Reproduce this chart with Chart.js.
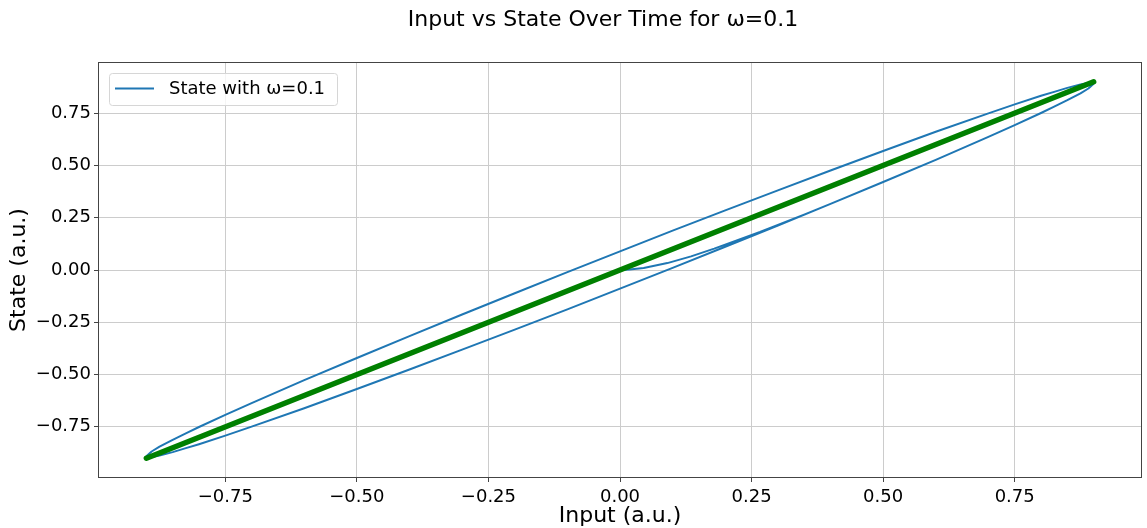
<!DOCTYPE html>
<html>
<head>
<meta charset="utf-8">
<script src="https://cdn.jsdelivr.net/npm/chart.js@4"></script>
<style>
  html, body { margin: 0; padding: 0; background: #fff; }
  canvas { display: block; }
</style>
</head>
<body>
<canvas id="loopChart" width="1147" height="528"></canvas>
<script>
// Start-up transient, from rest at the origin until it joins the lower branch
const transientInput = [0, 0.018, 0.045, 0.09, 0.135, 0.179, 0.266, 0.351];
const transientState = [0, 0.002, 0.010, 0.033, 0.065, 0.102, 0.182, 0.266];

// Steady hysteresis loop: rising (lower) and falling (upper) branches
const loopInput = [-0.9, -0.89, -0.875, -0.85, -0.825, -0.8, -0.75, -0.7, -0.6, -0.5, -0.4, -0.3, -0.2, -0.1,
  0, 0.1, 0.2, 0.3, 0.4, 0.5, 0.6, 0.7, 0.75, 0.8, 0.825, 0.85, 0.875, 0.89, 0.9];
const lowerState = [-0.891, -0.894, -0.887, -0.871, -0.852, -0.833, -0.792, -0.749, -0.661, -0.569, -0.476, -0.381, -0.285, -0.188,
  -0.089, 0.010, 0.111, 0.213, 0.316, 0.421, 0.527, 0.637, 0.693, 0.751, 0.781, 0.812, 0.845, 0.868, 0.891];
const upperState = [-0.891, -0.868, -0.845, -0.812, -0.781, -0.751, -0.693, -0.637, -0.527, -0.421, -0.316, -0.213, -0.111, -0.010,
  0.089, 0.188, 0.285, 0.381, 0.476, 0.569, 0.661, 0.749, 0.792, 0.833, 0.852, 0.871, 0.887, 0.894, 0.891];

// Identity reference line
const identityInput = [-0.9, 0.9];
const identityState = [-0.9, 0.9];

const tickValues = [-0.75, -0.5, -0.25, 0, 0.25, 0.5, 0.75];

const FONT = "'DejaVu Sans', sans-serif";

// transient -> rest of lower branch -> upper branch back down -> lower branch up again
const statePath = [];
transientInput.forEach((x, i) => statePath.push({ x: x, y: transientState[i] }));
loopInput.forEach((x, i) => { if (x > transientInput[transientInput.length - 1]) statePath.push({ x: x, y: lowerState[i] }); });
for (let i = loopInput.length - 2; i >= 0; i--) statePath.push({ x: loopInput[i], y: upperState[i] });
for (let i = 1; i < loopInput.length; i++) statePath.push({ x: loopInput[i], y: lowerState[i] });

const identityPath = identityInput.map((x, i) => ({ x: x, y: identityState[i] }));

const fmtTick = v => (v < 0 ? '\u2212' : '') + Math.abs(v).toFixed(2);

const axisCommon = {
  type: 'linear',
  min: -0.99,
  max: 0.99,
  afterBuildTicks: scale => { scale.ticks = tickValues.map(v => ({ value: v })); },
  grid: { color: '#cccccc', lineWidth: 1, tickColor: '#444', tickLength: 5, drawTicks: true },
  border: { display: false },
};

// frame, title and legend box, drawn the way the plotting library draws them
const decorations = {
  id: 'decorations',
  afterDatasetsDraw(chart) {
    const { ctx, chartArea: a } = chart;
    ctx.save();
    ctx.strokeStyle = '#444';
    ctx.lineWidth = 1;
    ctx.strokeRect(Math.round(a.left) - 0.5, Math.round(a.top) - 0.5,
      Math.round(a.right - a.left) + 1, Math.round(a.bottom - a.top) + 1);

    // legend
    const lx = a.left + 10, ly = a.top + 10, lw = 228, lh = 32;
    ctx.beginPath();
    ctx.roundRect(lx + 0.5, ly + 0.5, lw, lh, 3);
    ctx.fillStyle = 'rgba(255,255,255,0.8)';
    ctx.fill();
    ctx.strokeStyle = '#d6d6d6';
    ctx.stroke();
    ctx.beginPath();
    ctx.moveTo(lx + 6, ly + 15.5);
    ctx.lineTo(lx + 45, ly + 15.5);
    ctx.strokeStyle = '#1f77b4';
    ctx.lineWidth = 2;
    ctx.stroke();
    ctx.fillStyle = '#000';
    ctx.font = '18px ' + FONT;
    ctx.textBaseline = 'middle';
    ctx.textAlign = 'left';
    ctx.fillText('State with \u03c9=0.1', lx + 60, ly + 16);
    ctx.restore();
  },
  afterDraw(chart) {
    const { ctx } = chart;
    ctx.save();
    ctx.fillStyle = '#000';
    ctx.font = '22px ' + FONT;
    ctx.textAlign = 'center';
    ctx.textBaseline = 'middle';
    ctx.fillText('Input vs State Over Time for \u03c9=0.1', 603, 20);
    ctx.restore();
  }
};

new Chart(document.getElementById('loopChart'), {
  type: 'scatter',
  data: {
    datasets: [
      {
        label: 'State with \u03c9=0.1',
        data: statePath,
        showLine: true,
        borderColor: '#1f77b4',
        borderWidth: 2,
        borderJoinStyle: 'round',
        pointRadius: 0,
        tension: 0,
        order: 1
      },
      {
        label: 'identity',
        data: identityPath,
        showLine: true,
        borderColor: '#008000',
        borderWidth: 5.5,
        borderCapStyle: 'round',
        pointRadius: 0,
        order: 0
      }
    ]
  },
  options: {
    responsive: false,
    animation: false,
    devicePixelRatio: 1,
    layout: { padding: { top: 63, right: 6, left: 0, bottom: 0 } },
    plugins: {
      legend: { display: false },
      title: { display: false },
      tooltip: { enabled: false }
    },
    scales: {
      x: Object.assign({}, axisCommon, {
        position: 'bottom',
        afterFit: s => { s.height = 51; },
        ticks: { color: '#000', font: { family: FONT, size: 18 }, padding: 5, callback: fmtTick, maxRotation: 0 },
        title: { display: true, text: 'Input (a.u.)', color: '#000', font: { family: FONT, size: 22, lineHeight: 1 }, padding: { top: 0, bottom: 1 } }
      }),
      y: Object.assign({}, axisCommon, {
        position: 'left',
        afterFit: s => { s.width = 99; },
        ticks: { color: '#000', font: { family: FONT, size: 18 }, padding: 3, callback: fmtTick },
        title: { display: true, text: 'State (a.u.)', color: '#000', font: { family: FONT, size: 22, lineHeight: 1 }, padding: { top: 8, bottom: 0 } }
      })
    }
  },
  plugins: [decorations]
});
</script>
</body>
</html>
